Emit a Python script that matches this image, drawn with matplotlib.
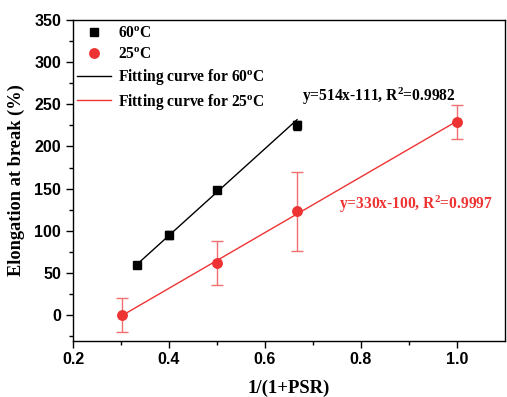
import numpy as np
import matplotlib
matplotlib.use("Agg")
import matplotlib.pyplot as plt
from matplotlib.lines import Line2D

# data
x_60 = [1/3, 0.4, 0.5, 2/3]
y_60 = [60, 95, 148, 225]
err_60 = [2, 5, 2, 5]

x_25 = [1/3.3, 0.5, 2/3, 1.0]
y_25 = [0, 62, 123, 229]
err_25 = [20, 26, 47, 20]

fit_60 = [514, -111]
fit_25 = [330, -100]
r2_60 = 0.9982
r2_25 = 0.9997

RED = '#ee3333'
SERIF = 'Liberation Serif'
SANS = 'Liberation Sans'

plt.rcParams['mathtext.default'] = 'regular'

fig = plt.figure(figsize=(5.07, 3.97), dpi=100)
ax = fig.add_axes([0.144, 0.142, 0.852, 0.808])

# fitting lines
xf60 = np.array([x_60[0], x_60[-1]])
xf25 = np.array([x_25[0], x_25[-1]])
ax.plot(xf60, np.polyval(fit_60, xf60), color='black', lw=1, zorder=2)
ax.plot(xf25, np.polyval(fit_25, xf25), color=RED, lw=1, zorder=2)

ax.errorbar(x_60, y_60, yerr=err_60, fmt='s', color='black', ms=6,
            ecolor='black', elinewidth=1, capsize=3, zorder=3)
ax.errorbar(x_25, y_25, yerr=err_25, fmt='o', color=RED, ms=6.8,
            ecolor='#f07070', elinewidth=1, capsize=4, zorder=3)

ax.set_xlim(0.2, 1.1)
ax.set_ylim(-30, 350)
ax.set_xticks([0.2, 0.4, 0.6, 0.8, 1.0])
ax.set_xticks(np.arange(0.3, 1.1, 0.2), minor=True)
ax.set_yticks(np.arange(0, 351, 50))
ax.set_yticks(np.arange(-25, 350, 50), minor=True)
ax.tick_params(which='both', direction='out', top=False, right=False, width=1)
ax.tick_params(which='major', length=5)
ax.tick_params(which='minor', length=3)
for lab in ax.get_xticklabels() + ax.get_yticklabels():
    lab.set_fontfamily(SANS)
    lab.set_fontweight('bold')
    lab.set_fontsize(11.5)
for sp in ax.spines.values():
    sp.set_linewidth(1)

ax.set_xlabel('1/(1+PSR)', fontfamily=SERIF, fontweight='bold', fontsize=13.5, labelpad=9)
ax.set_ylabel('Elongation at break (%)', fontfamily=SERIF, fontweight='bold', fontsize=13.2, labelpad=7)

handles = [
    Line2D([], [], ls='none', marker='s', color='black', ms=6),
    Line2D([], [], ls='none', marker='o', color=RED, ms=6.8),
    Line2D([], [], color='black', lw=1),
    Line2D([], [], color=RED, lw=1),
]
labels = ['60$^{o}$C', '25$^{o}$C', 'Fitting curve for 60$^{o}$C', 'Fitting curve for 25$^{o}$C']
ax.legend(handles, labels, loc='upper left', frameon=False, bbox_to_anchor=(-0.019, 1.02),
          prop={'family': SERIF, 'weight': 'bold', 'size': 11.2},
          handlelength=2.2, handletextpad=0.45, labelspacing=0.3, borderpad=0.3)

ax.text(0.677, 259, 'y=%dx%d, R$^{2}$=%.4f' % (fit_60[0], fit_60[1], r2_60),
        fontfamily=SERIF, fontweight='bold', fontsize=11.2, color='black', va='center')
ax.text(0.755, 131, 'y=%dx%d, R$^{2}$=%.4f' % (fit_25[0], fit_25[1], r2_25),
        fontfamily=SERIF, fontweight='bold', fontsize=11.2, color=RED, va='center')

fig.savefig('out.png', dpi=100)
